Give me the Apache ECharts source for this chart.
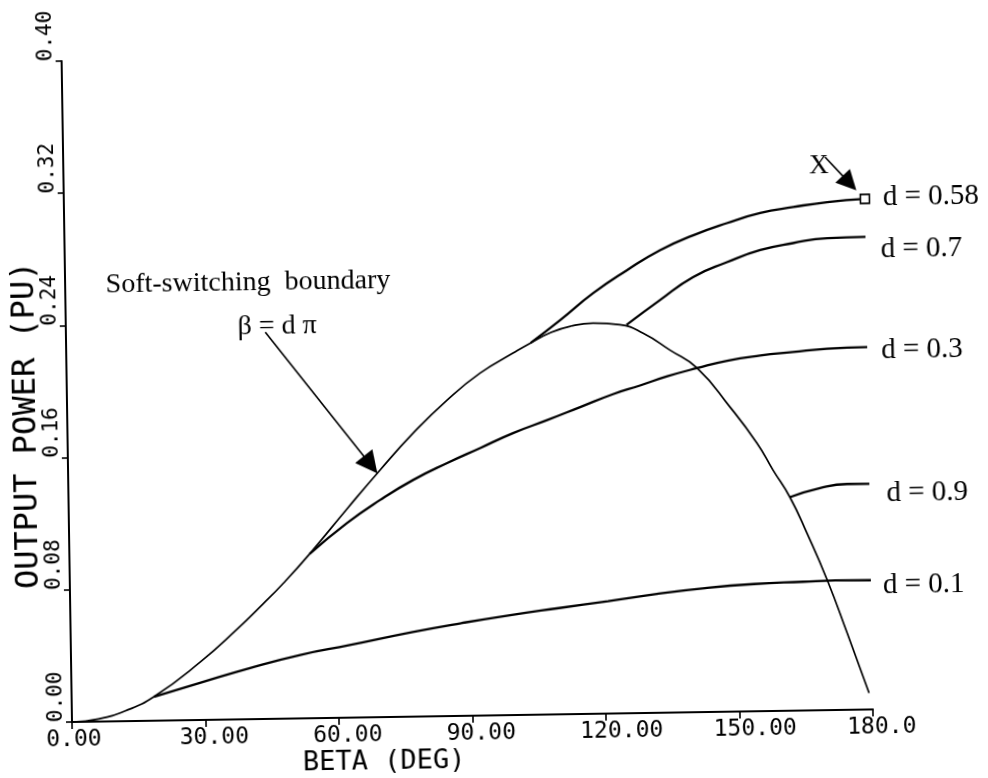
<!DOCTYPE html>
<html>
<head>
<meta charset="utf-8">
<script src="https://cdn.jsdelivr.net/npm/echarts@6/dist/echarts.min.js"></script>
<style>
  html, body { margin: 0; padding: 0; background: #fff; }
  /* the plotter sheet sits slightly tilted */
  #chart { width: 988px; height: 778px; transform: rotate(-0.9deg); transform-origin: 72px 722px; }
</style>
</head>
<body>
<div id="chart"></div>
<script>
// Output power (PU) against phase shift beta (deg) for several duty ratios d.
const betaTickLabels = ['0.00', '30.00', '60.00', '90.00', '120.00', '150.00', '180.0'];
const powerTickLabels = ['0.00', '0.08', '0.16', '0.24', '0.32', '0.40'];

// Soft-switching boundary beta = d*pi (common rising branch, then the hump)
const boundaryBeta  = [0, 6, 12, 18.5, 29.0, 37.4, 43.3, 48.0, 54.0, 62.6, 70.1, 77.7, 85.4, 92.9, 100.4, 104.4, 109.0, 113.5, 118.5, 124.5, 129.7, 135.7, 141.7, 149.0, 154.9, 158.4, 162.1, 165.8, 170.2, 174.5, 179.2];
const boundaryPower = [0, 0.0016, 0.0062, 0.0145, 0.035, 0.0545, 0.0695, 0.082, 0.0995, 0.1265, 0.1495, 0.1716, 0.1912, 0.2072, 0.219, 0.225, 0.2312, 0.2348, 0.2364, 0.2352, 0.2298, 0.2193, 0.2082, 0.1842, 0.1622, 0.1458, 0.1292, 0.1073, 0.0787, 0.0464, 0.0100];

// d = 0.58
const d058Beta  = [104.4, 111.1, 118.6, 126.3, 133.8, 141.3, 148.9, 156.4, 163.9, 171.5, 180];
const d058Power = [0.225, 0.2385, 0.2545, 0.2681, 0.2799, 0.2886, 0.2956, 0.3014, 0.3047, 0.3074, 0.309];

// d = 0.7
const d07Beta  = [126, 133.6, 141.1, 148.8, 156.3, 163.7, 171.4, 180];
const d07Power = [0.235, 0.2497, 0.2633, 0.272, 0.279, 0.2829, 0.2856, 0.286];

// d = 0.3
const d03Beta  = [54, 62.5, 70.0, 77.5, 85.2, 92.7, 100.1, 107.8, 115.3, 122.7, 128.8, 135.0, 141.7, 148.5, 155.9, 163.3, 171.0, 180];
const d03Power = [0.0995, 0.1178, 0.1314, 0.1432, 0.1531, 0.1619, 0.1706, 0.1781, 0.1857, 0.1932, 0.1982, 0.2035, 0.2082, 0.2124, 0.2152, 0.2170, 0.2187, 0.2193];

// d = 0.9
const d09Beta  = [162.1, 168.9, 175.0, 180];
const d09Power = [0.1292, 0.1344, 0.1366, 0.1365];

// d = 0.1
const d01Beta  = [18.5, 28.9, 40.2, 51.5, 62.7, 76.9, 87.8, 98.8, 109.8, 120.9, 131.9, 142.7, 153.7, 164.8, 172, 180];
const d01Power = [0.0145, 0.0225, 0.031, 0.0384, 0.0439, 0.0512, 0.0561, 0.0605, 0.0643, 0.0680, 0.0720, 0.075, 0.077, 0.0779, 0.0784, 0.0782];

const zip = (xs, ys) => xs.map((x, i) => [x, ys[i]]);

const serifFont = '"Liberation Serif", "DejaVu Serif", serif';
const plotterFont = '"DejaVu Sans Mono", "Liberation Mono", monospace';

function curve(name, xs, ys, label, offset) {
  return {
    name: name,
    type: 'line',
    data: zip(xs, ys),
    smooth: 0.5,
    symbol: 'none',
    showSymbol: false,
    silent: true,
    lineStyle: { color: '#000', width: 2.3 },
    endLabel: {
      show: true,
      formatter: label,
      distance: 0,
      offset: offset,
      color: '#000',
      fontFamily: serifFont,
      fontSize: 29
    },
    z: 3
  };
}

const d058 = curve('d058', d058Beta, d058Power, 'd = 0.58', [18, -1]);
// small open square on the end of the d = 0.58 curve (point X)
d058.data[d058.data.length - 1] = {
  value: d058.data[d058.data.length - 1],
  symbol: 'rect',
  symbolSize: 9,
  itemStyle: { color: '#fff', borderColor: '#000', borderWidth: 1.6 }
};
d058.showSymbol = true;

const annotationStyle = { color: '#000', fontFamily: serifFont, fontSize: 28 };

const chart = echarts.init(document.getElementById('chart'), null, { renderer: 'canvas' });
chart.setOption({
  animation: false,
  backgroundColor: '#fff',
  grid: { left: 72, top: 61, width: 801, height: 661, containLabel: false, outerBoundsMode: 'none' },
  xAxis: {
    type: 'value',
    min: 0, max: 180, interval: 30,
    name: 'BETA (DEG)',
    nameLocation: 'middle',
    nameGap: 31,
    nameMoveOverlap: false,
    nameTextStyle: { color: '#000', fontFamily: plotterFont, fontSize: 27, padding: [0, 178, 0, 0] },
    axisLine: { show: true, onZero: false, lineStyle: { color: '#000', width: 2 } },
    axisTick: { show: true, length: 7, lineStyle: { color: '#000', width: 1.6 } },
    axisLabel: {
      color: '#000', fontFamily: plotterFont, fontSize: 23, margin: 7,
      align: 'left', padding: [0, 0, 0, -26],
      formatter: v => betaTickLabels[Math.round(v / 30)]
    },
    splitLine: { show: false }
  },
  yAxis: {
    type: 'value',
    min: 0, max: 0.4, interval: 0.08,
    name: 'OUTPUT POWER (PU)',
    nameLocation: 'middle',
    nameGap: 24,
    nameRotate: 90,
    nameMoveOverlap: false,
    nameTextStyle: { color: '#000', fontFamily: plotterFont, fontSize: 32, padding: [0, 66, 0, 0] },
    axisLine: { show: true, onZero: false, lineStyle: { color: '#000', width: 2 } },
    axisTick: { show: true, length: 6, lineStyle: { color: '#000', width: 1.6 } },
    axisLabel: {
      color: '#000', fontFamily: plotterFont, fontSize: 21, margin: 5,
      rotate: 90, align: 'left',
      formatter: v => powerTickLabels[Math.round(v / 0.08)]
    },
    splitLine: { show: false }
  },
  series: [
    {
      name: 'boundary',
      type: 'line',
      data: zip(boundaryBeta, boundaryPower),
      smooth: 0.5,
      symbol: 'none',
      silent: true,
      lineStyle: { color: '#000', width: 1.7 },
      z: 2,
      markPoint: {
        silent: true,
        symbol: 'circle',
        symbolSize: 1,
        itemStyle: { color: 'rgba(0,0,0,0)' },
        label: Object.assign({ show: true, position: 'inside' }, annotationStyle),
        data: [
          { coord: [41.1, 0.264], label: { formatter: 'Soft-switching  boundary' } },
          { coord: [47.5, 0.2376], label: { formatter: 'β = d π' } },
          { coord: [169.8, 0.3293], label: { formatter: 'X', fontSize: 27 } }
        ]
      },
      markLine: {
        silent: true,
        symbol: ['none', 'triangle'],
        symbolSize: 22,
        label: { show: false },
        lineStyle: { color: '#000', width: 1.6, type: 'solid' },
        itemStyle: { color: '#000' },
        data: [
          [{ coord: [44.8, 0.2341] }, { coord: [68.0, 0.1528] }],
          [{ coord: [171.2, 0.3346] }, { coord: [176.6, 0.3187], symbolSize: 20 }]
        ]
      }
    },
    d058,
    curve('d07', d07Beta, d07Power, 'd = 0.7', [15, 13]),
    curve('d03', d03Beta, d03Power, 'd = 0.3', [14, 4]),
    curve('d09', d09Beta, d09Power, 'd = 0.9', [17, 10]),
    curve('d01', d01Beta, d01Power, 'd = 0.1', [12, 6])
  ]
});
</script>
</body>
</html>
